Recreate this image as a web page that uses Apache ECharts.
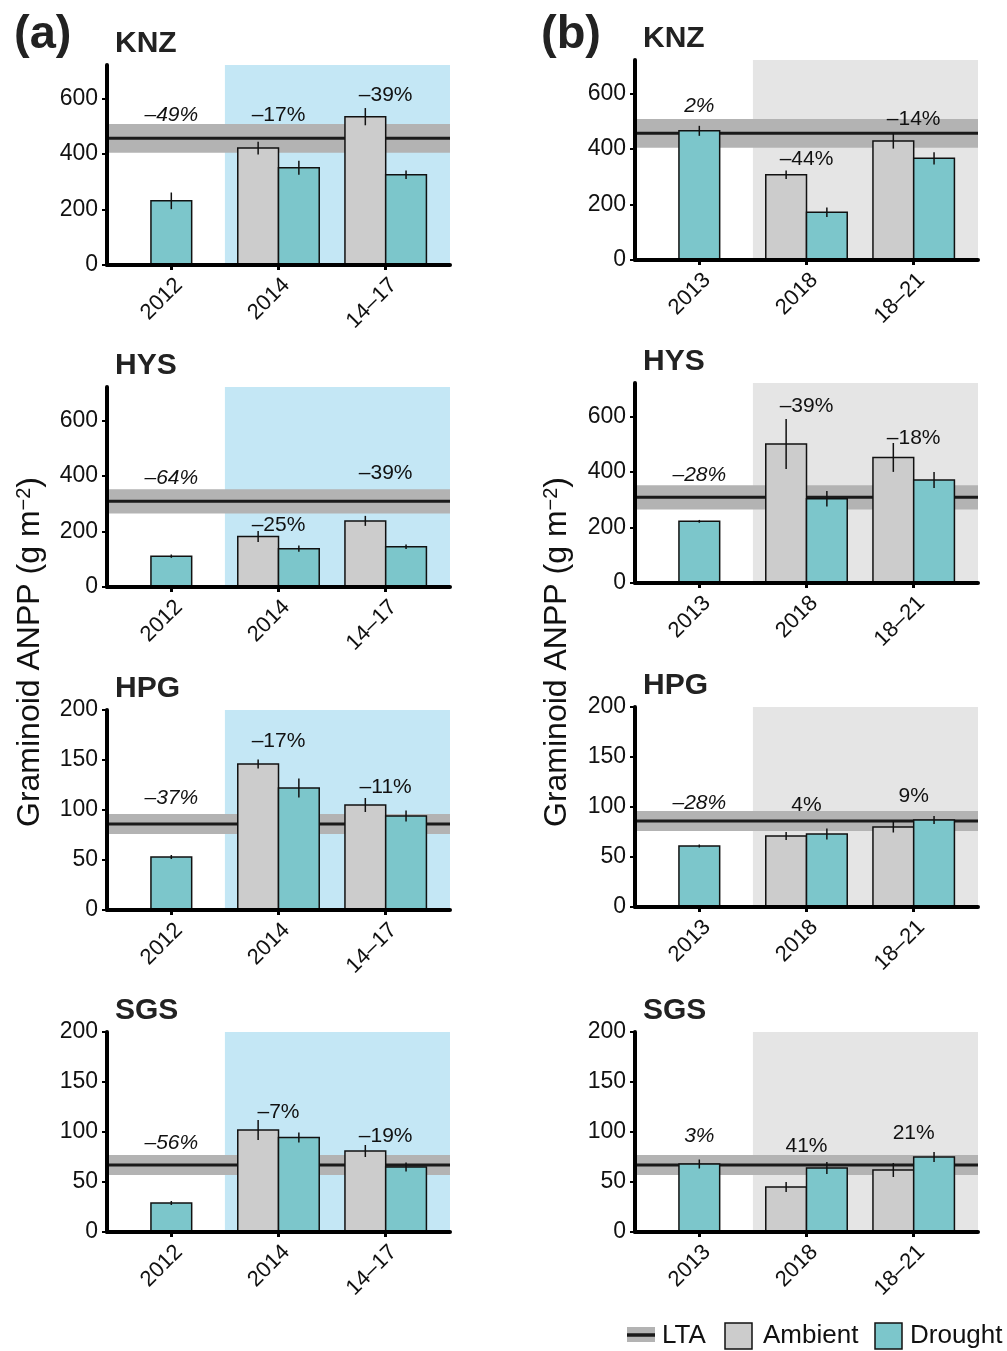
<!DOCTYPE html>
<html>
<head>
<meta charset="utf-8">
<title>Graminoid ANPP</title>
<script src="https://cdn.jsdelivr.net/npm/echarts@6/dist/echarts.min.js"></script>
<style>
  html, body { margin: 0; padding: 0; background: #fff; }
  #chart { width: 1007px; height: 1351px; }
</style>
</head>
<body>
<div id="chart"></div>
<script>
// one row per site
var sites = ['KNZ', 'HYS', 'HPG', 'SGS'];
var catsA = ['2012', '2014', '14–17'];
var catsB = ['2013', '2018', '18–21'];

// long-term average and its band, g m-2
var ltaMean = [456, 309, 86, 67];
var ltaLow  = [404, 265, 76, 57];
var ltaHigh = [508, 352, 96, 77];

var yMax   = [720, 720, 200, 200];
var yTicks = [[0, 200, 400, 600], [0, 200, 400, 600], [0, 50, 100, 150, 200], [0, 50, 100, 150, 200]];

// (a) first drought
var ambA    = [[null, 421, 534], [null, 182, 238], [null, 146, 105], [null, 102, 81]];
var ambErrA = [[null, 23, 31], [null, 20, 18], [null, 4.5, 7], [null, 10, 6]];
var droA    = [[231, 350, 325], [111, 138, 145], [53, 122, 94], [29, 94.5, 65]];
var droErrA = [[30, 25, 15], [6, 11, 8], [2, 9.5, 5.5], [2, 5, 4.5]];
var pctA    = [['–49%', '–17%', '–39%'], ['–64%', '–25%', '–39%'], ['–37%', '–17%', '–11%'], ['–56%', '–7%', '–19%']];
var pctYA   = [[540, 540, 612], [393, 223, 411], [112, 169, 122.5], [89, 120, 95.5]];

// (b) second drought
var ambB    = [[null, 307, 428], [null, 500, 452], [null, 71, 80], [null, 45, 62]];
var ambErrB = [[null, 15, 27], [null, 90, 52], [null, 4, 5.5], [null, 5, 7]];
var droB    = [[465, 172, 366], [222, 303, 371], [61, 73, 87], [68, 64, 75]];
var droErrB = [[18, 17, 22], [5, 28, 29], [1.5, 5.5, 4], [4.5, 6, 5]];
var pctB    = [['2%', '–44%', '–14%'], ['–28%', '–39%', '–18%'], ['–28%', '4%', '9%'], ['3%', '41%', '21%']];
var pctYB   = [[553, 364, 507], [390, 636, 522], [104, 101.5, 111], [95.5, 85.5, 99]];

var TEAL = '#7cc6cb', AMB = '#cccccc', BLUE = '#c4e7f5', GREY = '#e5e5e5', BAND = '#b3b3b3', INK = '#111';
var FONT = '"Liberation Sans", Arial, Helvetica, sans-serif';
var BW = 0.38; // bar width in x units

var colLeft = [107, 635];
var rowTopA = [65, 387, 710, 1032];
var rowTopB = [60, 383, 707, 1032];
var W = 343, H = 200;

var grids = [], xAxes = [], yAxes = [], series = [], graphics = [];

function barRender(fill) {
    return function (params, api) {
        var x = api.value(0), v = api.value(1), e = api.value(2);
        var p0 = api.coord([x - BW / 2, 0]);
        var p1 = api.coord([x + BW / 2, v]);
        var top = api.coord([x, v + e]);
        var bot = api.coord([x, v - e]);
        return {
            type: 'group',
            children: [
                { type: 'rect', shape: { x: p0[0], y: p1[1], width: p1[0] - p0[0], height: p0[1] - p1[1] },
                  style: { fill: fill, stroke: INK, lineWidth: 1.5 } },
                { type: 'line', shape: { x1: top[0], y1: top[1], x2: bot[0], y2: bot[1] },
                  style: { stroke: INK, lineWidth: 1.5 } }
            ]
        };
    };
}

function addPanel(col, row) {
    var idx = grids.length;
    var top = col === 0 ? rowTopA[row] : rowTopB[row];
    var cats = col === 0 ? catsA : catsB;
    var amb = (col === 0 ? ambA : ambB)[row];
    var ambErr = (col === 0 ? ambErrA : ambErrB)[row];
    var dro = (col === 0 ? droA : droB)[row];
    var droErr = (col === 0 ? droErrA : droErrB)[row];
    var pct = (col === 0 ? pctA : pctB)[row];
    var pctY = (col === 0 ? pctYA : pctYB)[row];

    grids.push({ left: colLeft[col], top: top, width: W, height: H, containLabel: false, outerBoundsMode: 'none' });

    xAxes.push({
        type: 'value', gridIndex: idx, min: 0.4, max: 3.6, z: 10,
        axisLine: { show: true, onZero: false, lineStyle: { color: '#000', width: 4 } },
        axisTick: { show: true, customValues: [1, 2, 3], length: 5, lineStyle: { color: '#000', width: 3 } },
        axisLabel: {
            customValues: [1, 2, 3], rotate: 45, margin: 9, verticalAlign: 'top',
            fontSize: 22, fontFamily: FONT, color: INK,
            formatter: function (v) { return cats[Math.round(v) - 1]; }
        },
        splitLine: { show: false }
    });
    yAxes.push({
        type: 'value', gridIndex: idx, min: 0, max: yMax[row], z: 10,
        axisLine: { show: true, lineStyle: { color: '#000', width: 4 } },
        axisTick: { show: true, customValues: yTicks[row], length: 5, lineStyle: { color: '#000', width: 2 } },
        axisLabel: { customValues: yTicks[row], margin: 9, fontSize: 23, fontFamily: FONT, color: INK },
        splitLine: { show: false }
    });

    // shaded treatment period, from between 1st and 2nd category to the end
    series.push({
        type: 'custom', xAxisIndex: idx, yAxisIndex: idx, silent: true, z: 1,
        data: [[1.5, 0]],
        renderItem: function (params, api) {
            var cs = params.coordSys;
            var x0 = api.coord([api.value(0), 0])[0];
            return { type: 'rect', shape: { x: x0, y: cs.y, width: cs.x + cs.width - x0, height: cs.height },
                     style: { fill: col === 0 ? BLUE : GREY } };
        }
    });

    // LTA band and line
    series.push({
        type: 'custom', xAxisIndex: idx, yAxisIndex: idx, silent: true, z: 2,
        data: [[1, ltaMean[row], ltaLow[row], ltaHigh[row]]],
        renderItem: function (params, api) {
            var cs = params.coordSys;
            var ym = api.coord([1, api.value(1)])[1];
            var yl = api.coord([1, api.value(2)])[1];
            var yh = api.coord([1, api.value(3)])[1];
            return {
                type: 'group',
                children: [
                    { type: 'rect', shape: { x: cs.x, y: yh, width: cs.width, height: yl - yh }, style: { fill: BAND } },
                    { type: 'line', shape: { x1: cs.x, y1: ym, x2: cs.x + cs.width, y2: ym },
                      style: { stroke: '#1a1a1a', lineWidth: 3 } }
                ]
            };
        }
    });

    var ambData = [], droData = [];
    for (var i = 0; i < 3; i++) {
        if (amb[i] != null) ambData.push([i + 1 - BW / 2, amb[i], ambErr[i]]);
        droData.push([i + 1 + (amb[i] == null ? 0 : BW / 2), dro[i], droErr[i]]);
    }
    series.push({ type: 'custom', name: 'Ambient', xAxisIndex: idx, yAxisIndex: idx, silent: true, z: 3,
                  data: ambData, renderItem: barRender(AMB) });
    series.push({ type: 'custom', name: 'Drought', xAxisIndex: idx, yAxisIndex: idx, silent: true, z: 3,
                  data: droData, renderItem: barRender(TEAL) });

    // percent change labels
    series.push({
        type: 'custom', xAxisIndex: idx, yAxisIndex: idx, silent: true, z: 4,
        data: pctY.map(function (y, k) { return [k + 1, y]; }),
        renderItem: function (params, api) {
            var k = params.dataIndex;
            var p = api.coord([api.value(0), api.value(1)]);
            return { type: 'text', x: p[0], y: p[1],
                     style: { text: pct[k], font: (k === 0 ? 'italic ' : '') + '21px ' + FONT,
                              fill: INK, align: 'center', verticalAlign: 'middle' } };
        }
    });

    graphics.push({ type: 'text', x: colLeft[col] + 8, y: top - 21,
                    style: { text: sites[row], font: 'bold 30px ' + FONT, fill: '#222', verticalAlign: 'middle' } });
}

for (var r = 0; r < 4; r++) {
    addPanel(0, r);
    addPanel(1, r);
}

// panel letters
graphics.push({ type: 'text', x: 14, y: 35, style: { text: '(a)', font: 'bold 47px ' + FONT, fill: '#222', verticalAlign: 'middle' } });
graphics.push({ type: 'text', x: 541, y: 35, style: { text: '(b)', font: 'bold 47px ' + FONT, fill: '#222', verticalAlign: 'middle' } });

// y-axis titles
[30, 557].forEach(function (x) {
    graphics.push({
        type: 'text', x: x, y: 652, rotation: Math.PI / 2,
        style: {
            text: '{a|Graminoid ANPP (g m}{s|−2}{a|)}',
            rich: {
                a: { fontSize: 32, fontFamily: FONT, fill: INK },
                s: { fontSize: 20, fontFamily: FONT, fill: INK, verticalAlign: 'top' }
            },
            align: 'center', verticalAlign: 'middle'
        }
    });
});

// legend
graphics.push({ type: 'rect', shape: { x: 627, y: 1327, width: 28, height: 15 }, style: { fill: BAND } });
graphics.push({ type: 'line', shape: { x1: 627, y1: 1335, x2: 655, y2: 1335 }, style: { stroke: '#1a1a1a', lineWidth: 3.5 } });
graphics.push({ type: 'text', x: 662, y: 1336, style: { text: 'LTA', font: '26px ' + FONT, fill: INK, verticalAlign: 'middle' } });
graphics.push({ type: 'rect', shape: { x: 725, y: 1323, width: 27, height: 26 }, style: { fill: AMB, stroke: INK, lineWidth: 1.5 } });
graphics.push({ type: 'text', x: 763, y: 1336, style: { text: 'Ambient', font: '26px ' + FONT, fill: INK, verticalAlign: 'middle' } });
graphics.push({ type: 'rect', shape: { x: 875, y: 1323, width: 27, height: 26 }, style: { fill: TEAL, stroke: INK, lineWidth: 1.5 } });
graphics.push({ type: 'text', x: 910, y: 1336, style: { text: 'Drought', font: '26px ' + FONT, fill: INK, verticalAlign: 'middle' } });

var chart = echarts.init(document.getElementById('chart'), null, { renderer: 'canvas' });
chart.setOption({
    animation: false,
    backgroundColor: '#fff',
    grid: grids,
    xAxis: xAxes,
    yAxis: yAxes,
    series: series,
    graphic: graphics
});
</script>
</body>
</html>
